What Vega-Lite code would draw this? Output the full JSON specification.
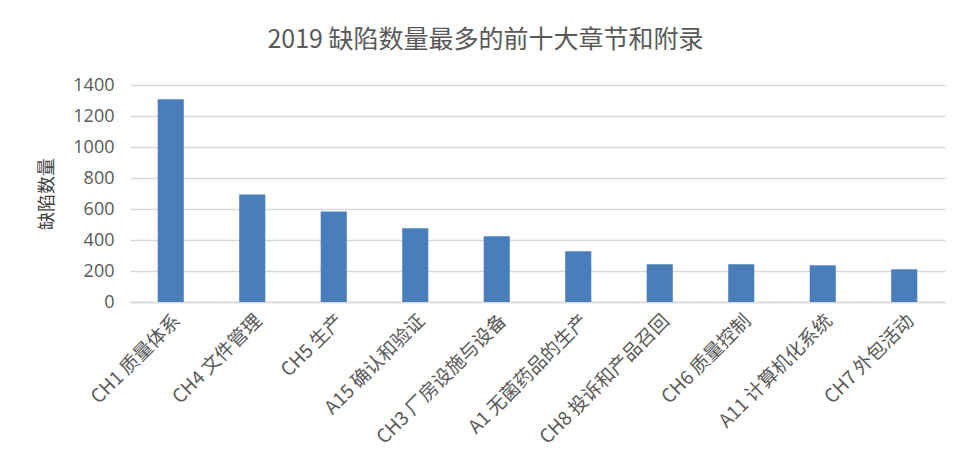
{
  "$schema": "https://vega.github.io/schema/vega-lite/v6.json",
  "width": 815,
  "height": 217,
  "autosize": "none",
  "padding": {"left": 130, "top": 85, "right": 24, "bottom": 174},
  "background": "white",
  "title": {
    "text": "2019 缺陷数量最多的前十大章节和附录",
    "font": "Noto Sans CJK SC",
    "fontSize": 25,
    "fontWeight": "normal",
    "color": "#595959",
    "anchor": "middle",
    "dx": -52,
    "offset": 23
  },
  "data": {
    "values": [
      {"chapter": "CH1 质量体系", "count": 1308},
      {"chapter": "CH4 文件管理", "count": 694},
      {"chapter": "CH5 生产", "count": 584},
      {"chapter": "A15 确认和验证", "count": 476},
      {"chapter": "CH3 厂房设施与设备", "count": 424},
      {"chapter": "A1 无菌药品的生产", "count": 328},
      {"chapter": "CH8 投诉和产品召回", "count": 243},
      {"chapter": "CH6 质量控制", "count": 243},
      {"chapter": "A11 计算机化系统", "count": 237},
      {"chapter": "CH7 外包活动", "count": 211}
    ]
  },
  "mark": {"type": "bar", "color": "#4a7ebb"},
  "encoding": {
    "x": {
      "field": "chapter",
      "type": "nominal",
      "sort": null,
      "scale": {"paddingInner": 0.68, "paddingOuter": 0.34},
      "axis": {
        "title": null,
        "labelAngle": -45,
        "labelFont": "Noto Sans CJK SC",
        "labelFontSize": 19,
        "labelColor": "#595959",
        "labelPadding": 9,
        "ticks": false,
        "domainColor": "#d9d9d9",
        "domainWidth": 1.5,
        "labelLimit": 300
      }
    },
    "y": {
      "field": "count",
      "type": "quantitative",
      "scale": {"domain": [0, 1400]},
      "axis": {
        "title": "缺陷数量",
        "titleFont": "Noto Sans CJK SC",
        "titleFontSize": 18,
        "titleFontWeight": "normal",
        "titleColor": "#404040",
        "titlePadding": 16,
        "values": [0, 200, 400, 600, 800, 1000, 1200, 1400],
        "format": "d",
        "labelFont": "Open Sans",
        "labelFontSize": 18,
        "labelColor": "#595959",
        "labelPadding": 16,
        "ticks": false,
        "domain": false,
        "gridColor": "#d9d9d9",
        "gridWidth": 1.5
      }
    }
  },
  "config": {"view": {"stroke": null}}
}
